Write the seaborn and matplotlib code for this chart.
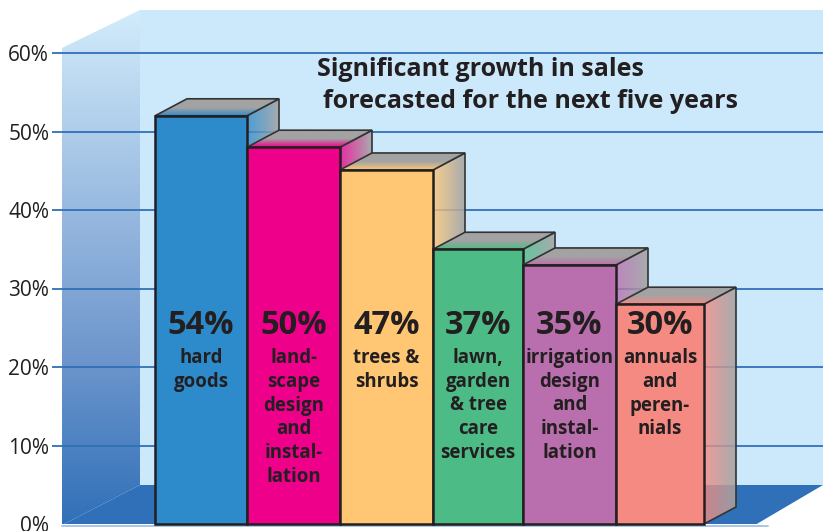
#!/usr/bin/env python3
"""Pseudo-3D bar chart: forecast sales growth by product category."""

import matplotlib
matplotlib.use('Agg')
import matplotlib.pyplot as plt
import numpy as np
import pandas as pd
import seaborn as sns
from matplotlib.colors import LinearSegmentedColormap, to_rgba
from matplotlib.patches import Polygon

# --- data ---
categories = ['hard\ngoods', 'land-\nscape\ndesign\nand\ninstal-\nlation', 'trees &\nshrubs',
              'lawn,\ngarden\n& tree\ncare\nservices', 'irrigation\ndesign\nand\ninstal-\nlation',
              'annuals\nand\nperen-\nnials']
bar_heights = [52, 48, 45.1, 35, 33, 28]  # height as drawn, not the same as the printed label
printed_labels = ['54%', '50%', '47%', '37%', '35%', '30%']
y_ticks = [0, 10, 20, 30, 40, 50, 60]
y_tick_labels = ['0%', '10%', '20%', '30%', '40%', '50%', '60%']
bar_colors = ['#2e8bcb', '#ee008b', '#ffc673', '#4dbb85', '#b96fae', '#f58a82']

# --- layout, in pixels of the reference picture ---
W, H = 823, 531
PX_PER_PCT = 7.85
ZERO_Y = 524
TOP_Y = 10
AXES_LEFT = 62
BAR_EDGES = [155, 247, 340, 433, 523, 616, 704]
DEPTH_X, DEPTH_Y = 32, 17
INK = '#231f20'
GRID_BLUE = '#3070b8'
WALL = '#cbe9fb'
GRAY = '#a3a3a3'


def to_x(px):
    # categorical position for a pixel column (bars are 91.5 px on average)
    return (px - BAR_EDGES[0]) / 91.5 - 0.5


def to_y(py):
    return (ZERO_Y - py) / PX_PER_PCT


def gradient_face(ax, verts_px, stops, horizontal, zorder):
    """Fill a polygon (pixel coords) with a linear gradient."""
    verts = [(to_x(x), to_y(y)) for x, y in verts_px]
    xs, ys = zip(*verts)
    cmap = LinearSegmentedColormap.from_list('g', stops)
    ramp = np.linspace(0, 1, 256)
    grid = ramp[None, :] if horizontal else ramp[:, None]
    # stops run left to right, or top to bottom
    im = ax.imshow(grid, cmap=cmap, extent=(min(xs), max(xs), min(ys), max(ys)),
                   origin='upper', aspect='auto', zorder=zorder, interpolation='bilinear')
    clip = Polygon(verts, closed=True, transform=ax.transData)
    im.set_clip_path(clip)


def outline(ax, verts_px, zorder, lw=1.2):
    verts = [(to_x(x), to_y(y)) for x, y in verts_px]
    ax.add_patch(Polygon(verts, closed=True, fill=False, edgecolor='#333333',
                         linewidth=lw, zorder=zorder, joinstyle='miter'))


def draw_chart():
    sns.set_theme(style='white')
    plt.rcParams['font.family'] = ['Open Sans', 'DejaVu Sans']

    fig = plt.figure(figsize=(W / 100, H / 100), dpi=100, facecolor='white')
    ax = fig.add_axes([AXES_LEFT / W, (H - ZERO_Y) / H, (W - AXES_LEFT) / W, (ZERO_Y - TOP_Y) / H])
    ax.set_facecolor('white')

    df = pd.DataFrame({'category': categories, 'height': bar_heights})
    sns.barplot(data=df, x='category', y='height', hue='category', palette=bar_colors,
                legend=False, width=1, saturation=1, ax=ax,
                edgecolor=INK, linewidth=1.8)

    # back wall, left wall, floor
    wall = Polygon([(to_x(140), to_y(10)), (to_x(823), to_y(10)), (to_x(823), to_y(485)), (to_x(140), to_y(485))],
                   closed=True, facecolor=WALL, edgecolor='none', zorder=0.1)
    ax.add_patch(wall)
    gradient_face(ax, [(62, 48), (140, 10), (140, 485), (62, 525)],
                  ['#d2ecfb', '#a0c0e4', '#6f97cd', GRID_BLUE], False, 0.2)
    floor = Polygon([(to_x(62), to_y(525)), (to_x(140), to_y(485)), (to_x(823), to_y(485)), (to_x(755), to_y(525))],
                    closed=True, facecolor=GRID_BLUE, edgecolor='none', zorder=0.7)
    ax.add_patch(floor)
    ax.plot([to_x(62), to_x(768)], [to_y(526), to_y(526)], color='#a9c6e8', lw=1.4,
            zorder=0.8, clip_on=False)

    # front faces, then the top and side of every bar
    for i, patch in enumerate(ax.patches[:len(categories)]):
        left, right = BAR_EDGES[i], BAR_EDGES[i + 1]
        patch.set_x(to_x(left))
        patch.set_width(to_x(right) - to_x(left))
        base_z = 10 + 3 * i
        patch.set_zorder(base_z + 2)
        patch.set_clip_on(False)

        top_y = ZERO_Y - bar_heights[i] * PX_PER_PCT
        color = bar_colors[i]
        end_gray = to_rgba(GRAY, 0.88)

        side = [(right, top_y), (right + DEPTH_X, top_y - DEPTH_Y),
                (right + DEPTH_X, ZERO_Y - DEPTH_Y), (right, ZERO_Y)]
        gradient_face(ax, side, [to_rgba(color, 0.8), end_gray], True, base_z)
        outline(ax, side, base_z + 0.5)

        top = [(left, top_y), (left + DEPTH_X, top_y - DEPTH_Y),
               (right + DEPTH_X, top_y - DEPTH_Y), (right, top_y)]
        gradient_face(ax, top, [GRAY, GRAY, color], False, base_z + 1)
        outline(ax, top, base_z + 1.5)

        center = (to_x(left) + to_x(right)) / 2
        ax.text(center, to_y(325.5), printed_labels[i], ha='center', va='center', fontsize=23.5,
                fontweight='bold', color=INK, zorder=60)
        ax.text(center, to_y(348), categories[i], ha='center', va='top', fontsize=13.4,
                fontweight='bold', color=INK, zorder=60, linespacing=1.25)

    # title lines are offset from each other in the original
    ax.text(to_x(317), to_y(69), 'Significant growth in sales', ha='left', va='center',
            fontsize=18, fontweight='bold', color=INK, zorder=60)
    ax.text(to_x(323), to_y(101), 'forecasted for the next five years', ha='left', va='center',
            fontsize=18, fontweight='bold', color=INK, zorder=60)

    ax.set_xlim(to_x(AXES_LEFT), to_x(W))
    ax.set_ylim(0, to_y(TOP_Y))
    ax.set_xticks([])
    ax.set_xlabel('')
    ax.set_ylabel('')
    ax.set_yticks(y_ticks)
    ax.set_yticklabels(y_tick_labels, fontsize=15, color=INK)
    ax.tick_params(axis='y', left=True, length=7.2, width=1.3, color=GRID_BLUE, pad=2)
    ax.set_axisbelow(True)
    ax.yaxis.grid(True, color=GRID_BLUE, linewidth=1.3)
    ax.yaxis.get_gridlines()[0].set_visible(False)
    ax.yaxis.get_major_ticks()[0].tick1line.set_visible(False)
    sns.despine(ax=ax, left=True, bottom=True)

    fig.savefig('out.png', dpi=100, facecolor='white')


if __name__ == '__main__':
    draw_chart()
